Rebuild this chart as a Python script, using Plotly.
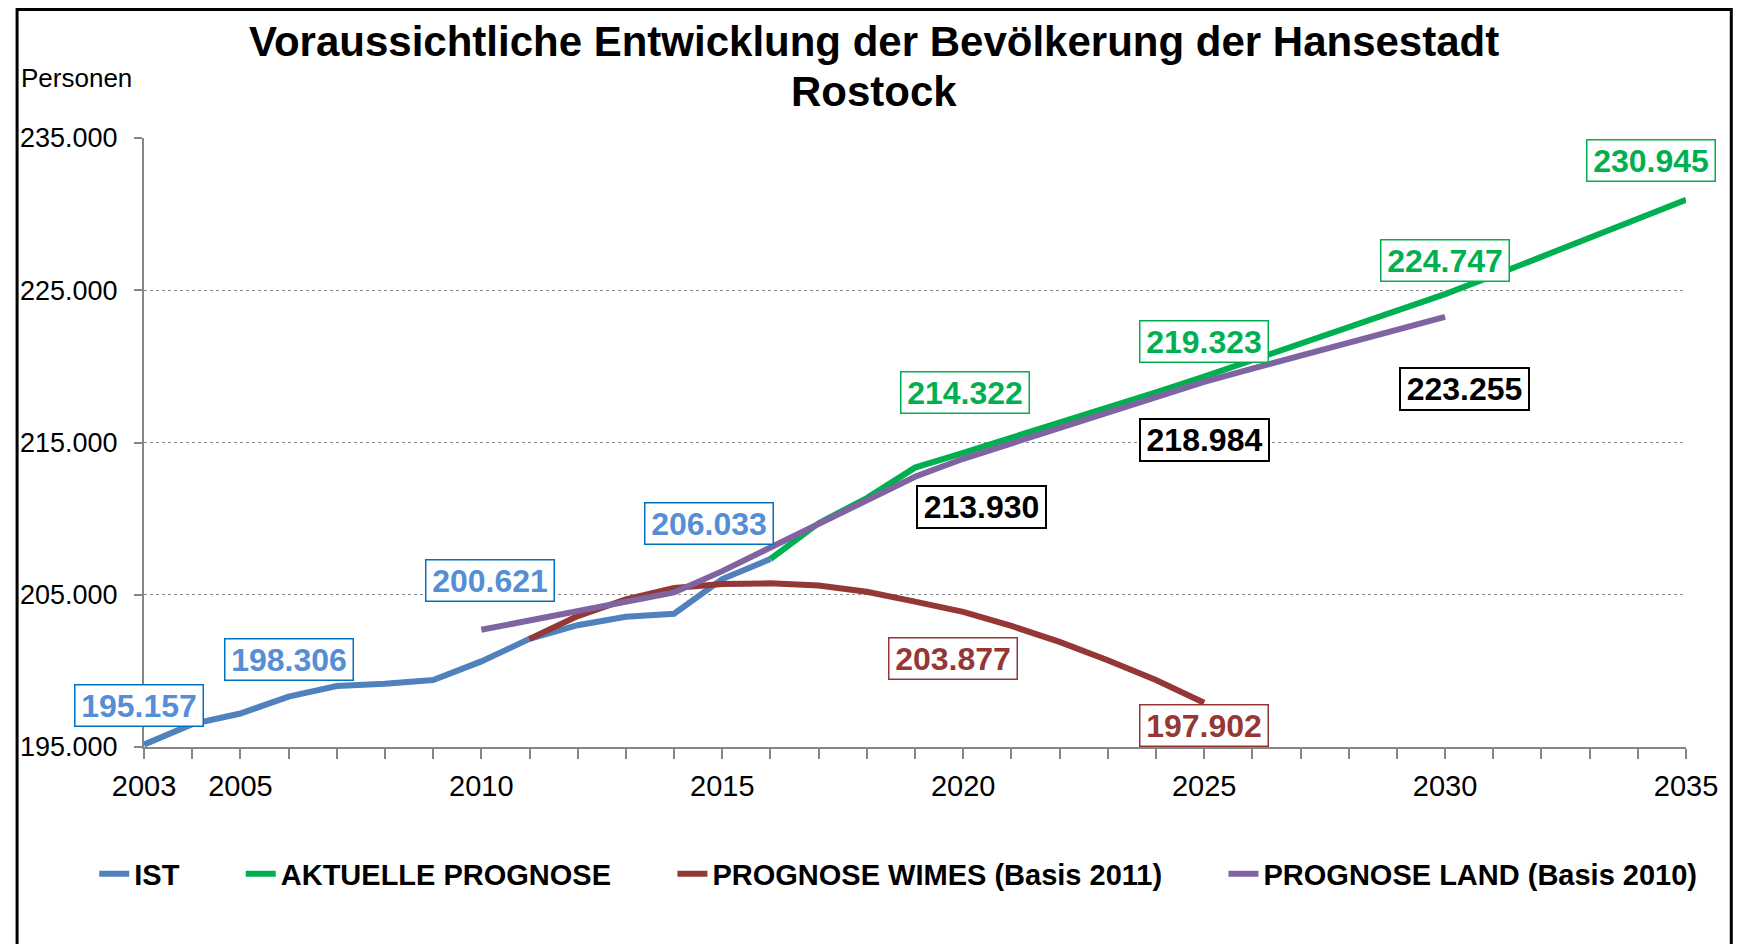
import plotly.graph_objects as go

# data
ist_years = list(range(2003, 2017))
ist_values = [195157, 196500, 197200, 198306, 199000, 199150, 199400, 200621,
              202100, 203000, 203550, 203750, 206033, 207350]

akt_years = list(range(2016, 2036))
akt_values = [207350, 209700, 211350, 213350, 214322, 215300, 216300, 217300, 218300, 219323,
              220400, 221450, 222550, 223650, 224747, 225950, 227200, 228450, 229700, 230945]

wimes_years = list(range(2011, 2026))
wimes_values = [202100, 203600, 204700, 205450, 205700, 205750, 205600, 205200, 204550, 203877,
                202950, 201900, 200700, 199400, 197902]

land_years = list(range(2010, 2031))
land_values = [202700, 203300, 203900, 204550, 205150, 206550, 208100, 209700, 211300, 212750,
               213930, 214950, 215970, 216980, 217980, 218984, 219850, 220700, 221560, 222410,
               223255]

x_labels = [2003, 2005, 2010, 2015, 2020, 2025, 2030, 2035]
y_ticks = [195000, 205000, 215000, 225000, 235000]

# which points get a value box: (year, xshift, yshift)
ist_marks = [(2003, -5, 39), (2006, 0, 37), (2010, 9, 81), (2015, -13, 56)]
akt_marks = [(2020, 2, 60), (2025, 0, 35), (2030, 0, 34), (2035, -35, 39)]
land_marks = [(2020, 18, -48), (2025, 0, -58), (2030, 19, -72)]
wimes_marks = [(2020, -10, -47), (2025, 0, -23)]

# the page body adds an 8px margin, so the figure is drawn that much smaller
OFF = 8
W, H = 1741 - 2 * OFF, 952 - 2 * OFF
L, T = 137 - OFF, 138 - OFF
R = W - (1686 - OFF)
B = H - (747 - OFF)
pw, ph = W - L - R, H - T - B


def px(x):
    return (x - OFF - L) / pw


def py(y):
    return (H - B - (y - OFF)) / ph


def de(v):
    return f"{v:,}".replace(",", ".")


FONT = "Arial, Liberation Sans, sans-serif"
BLUE, GREEN, RED, PURPLE = "#4F81BD", "#00B050", "#953735", "#8064A2"
PAD = "\u00a0" * 7

fig = go.Figure()
fig.add_trace(go.Scatter(x=ist_years, y=ist_values, mode="lines", name="IST" + PAD,
                         line=dict(color=BLUE, width=6)))
fig.add_trace(go.Scatter(x=akt_years, y=akt_values, mode="lines", name="AKTUELLE PROGNOSE" + PAD,
                         line=dict(color=GREEN, width=6)))
fig.add_trace(go.Scatter(x=wimes_years, y=wimes_values, mode="lines",
                         name="PROGNOSE WIMES (Basis 2011)" + PAD, line=dict(color=RED, width=6)))
fig.add_trace(go.Scatter(x=land_years, y=land_values, mode="lines",
                         name="PROGNOSE LAND (Basis 2010)", line=dict(color=PURPLE, width=6)))

annotations = []


def boxes(years, values, marks, txt, border, bw=1.5):
    for yr, dx, dy in marks:
        v = values[years.index(yr)]
        annotations.append(dict(
            x=yr, y=v, xref="x", yref="y", text=f"<b>{de(v)}</b>", showarrow=False,
            xshift=dx, yshift=dy, font=dict(family=FONT, size=32, color=txt),
            bgcolor="white", bordercolor=border, borderwidth=bw, borderpad=4,
            width=119, height=32))


boxes(ist_years, ist_values, ist_marks, "#558ED5", "#0070C0")
boxes(akt_years, akt_values, akt_marks, GREEN, GREEN)
boxes(land_years, land_values, land_marks, "black", "black", 2)
boxes(wimes_years, wimes_values, wimes_marks, RED, RED)

annotations.append(dict(x=px(870.5), y=py(42), xref="paper", yref="paper", showarrow=False,
                        yanchor="middle",
                        text="<b>Voraussichtliche Entwicklung der Bevölkerung der Hansestadt</b>",
                        font=dict(family=FONT, size=42, color="black")))
annotations.append(dict(x=px(870.5), y=py(91), xref="paper", yref="paper", showarrow=False,
                        yanchor="middle", text="<b>Rostock</b>",
                        font=dict(family=FONT, size=42, color="black")))
annotations.append(dict(x=px(11), y=py(78), xref="paper", yref="paper", showarrow=False,
                        xanchor="left", yanchor="middle", text="Personen",
                        font=dict(family=FONT, size=26, color="black")))

fig.update_layout(
    width=W, height=H,
    margin=dict(l=L, r=R, t=T, b=B),
    paper_bgcolor="white", plot_bgcolor="white",
    separators=",.",
    annotations=annotations,
    shapes=[dict(type="rect", xref="paper", yref="paper",
                 x0=px(9.5), x1=px(1731.5), y0=py(9.5), y1=py(990),
                 line=dict(color="black", width=3), layer="below")],
    # left of the plot area so plotly allows the full width before wrapping
    legend=dict(orientation="h", x=px(87), y=py(874),
                xanchor="left", yanchor="middle",
                font=dict(family=FONT, size=29, color="black", weight="bold"),
                bgcolor="rgba(0,0,0,0)"),
)

fig.update_xaxes(
    range=[2003, 2035], tickmode="array", tickvals=list(range(2003, 2036)),
    ticktext=[str(y) if y in x_labels else "" for y in range(2003, 2036)],
    ticks="outside", ticklen=10, tickcolor="#868686", tickwidth=2,
    showline=True, linecolor="#868686", linewidth=2, showgrid=False, zeroline=False,
    tickfont=dict(family=FONT, size=29, color="black"), ticklabelstandoff=2,
)
fig.update_yaxes(
    range=[195000, 235000], tickmode="array", tickvals=y_ticks,
    ticktext=[de(v) for v in y_ticks],
    ticks="outside", ticklen=8, tickcolor="#868686", tickwidth=2,
    showline=True, linecolor="#868686", linewidth=2,
    showgrid=True, gridcolor="#8C8C8C", gridwidth=1, griddash="dot", zeroline=False,
    tickfont=dict(family=FONT, size=27, color="black"), ticklabelstandoff=11,
)

fig.write_html("out.html")
